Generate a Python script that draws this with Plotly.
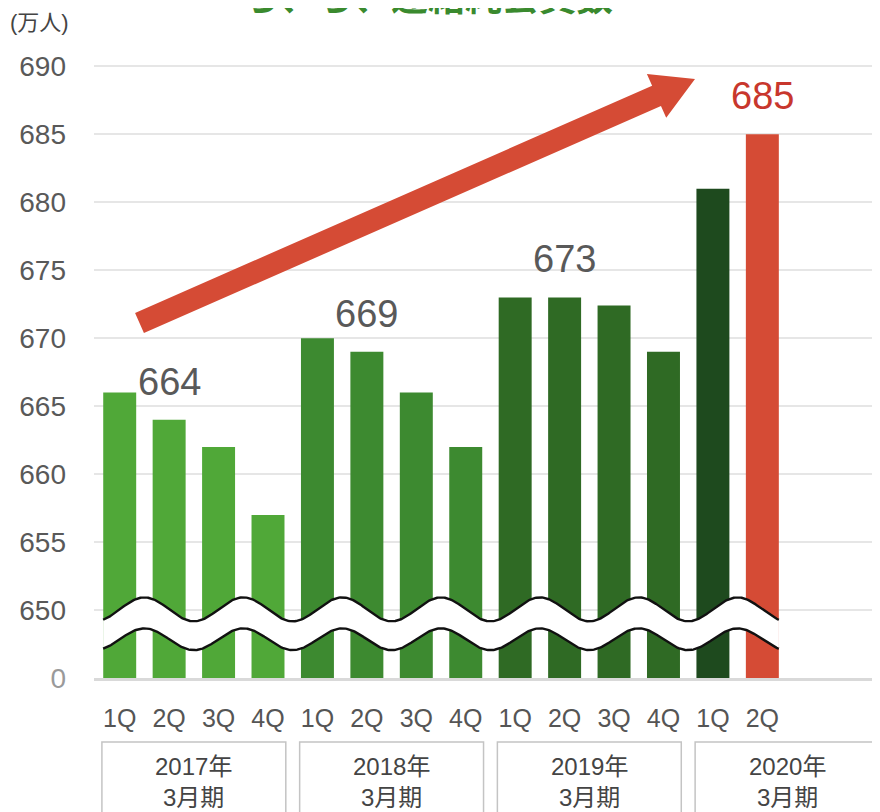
import numpy as np
import plotly.graph_objects as go

# ---------------- data ----------------
quarters = ["1Q", "2Q", "3Q", "4Q", "1Q", "2Q", "3Q", "4Q", "1Q", "2Q", "3Q", "4Q", "1Q", "2Q"]
fiscal_years = ["2017年<br>3月期", "2018年<br>3月期", "2019年<br>3月期", "2020年<br>3月期"]
year_of_bar = [0, 0, 0, 0, 1, 1, 1, 1, 2, 2, 2, 2, 3, 3]
members = [666, 664, 662, 657, 670, 669, 666, 662, 673, 673, 672.4, 669, 681, 685]
label_bars = [1, 5, 9, 13]
y_ticks = [645, 650, 655, 660, 665, 670, 675, 680, 685, 690]
y_tick_text = ["<span style='color:#9a9a9a'>0</span>", "650", "655", "660", "665",
               "670", "675", "680", "685", "690"]
year_colors = ["#50A838", "#3D8A30", "#2F6A24", "#1E4A1E"]
highlight_color = "#D54B35"
title_text = "ら、ら、連結純会員数"
unit_text = "(万人)"

# ---------------- geometry helpers ----------------
# page pixel positions; the page body adds an 8px offset
OFF = 8
W, H = 880, 812
L, R, T, B = 94 - OFF, 880 - OFF, 65 - OFF, 678 - OFF
def pp(px, py):
    return (px - OFF - L) / (R - L), (B - (py - OFF)) / (B - T)

FONT = "Liberation Sans, Arial, Noto Sans CJK JP, sans-serif"
NARROW = "Liberation Sans Narrow, Arial Narrow, Liberation Sans, Noto Sans CJK JP, sans-serif"

x = list(range(len(members)))
colors = [year_colors[g] for g in year_of_bar]
colors[-1] = highlight_color

fig = go.Figure()
fig.add_trace(go.Bar(x=x, y=[m - 645 for m in members], base=645, marker_color=colors,
                     marker_line_width=0, width=0.667, hoverinfo="skip"))

# axis-break wave (decoration)
wx = np.linspace(-0.335, len(members) - 1 + 0.335, 600)
low = 647.85 + 0.80 * np.cos(np.pi * (wx - 0.5))
up = 650.05 + 0.88 * np.cos(np.pi * (wx - 0.5))
fig.add_trace(go.Scatter(x=wx, y=low, mode="lines", line=dict(color="#111", width=2.4),
                         hoverinfo="skip"))
fig.add_trace(go.Scatter(x=wx, y=up, mode="lines", line=dict(color="#111", width=2.4),
                         fill="tonexty", fillcolor="white", hoverinfo="skip"))

annotations = []
for i in label_bars:
    red = i == len(members) - 1
    annotations.append(dict(x=i, y=members[i], xref="x", yref="y", text=f"{members[i]:.0f}",
                            showarrow=False, yshift=38,
                            font=dict(size=38, color="#C8372D" if red else "#595959", family=FONT)))

shapes = []
for g, lab in enumerate(fiscal_years):
    x0, x1 = g * 4 - 0.36, g * 4 + 3.36
    shapes.append(dict(type="rect", xref="x", yref="paper", x0=x0, x1=x1,
                       y0=pp(0, 742)[1], y1=pp(0, 830)[1],
                       line=dict(color="#c4c4c4", width=1.5), fillcolor="rgba(0,0,0,0)", layer="above"))
    annotations.append(dict(x=g * 4 + 1.5, y=pp(0, 782)[1], xref="x", yref="paper", text=lab,
                            showarrow=False, yanchor="middle",
                            font=dict(size=24, color="#444444", family=NARROW)))

# big red arrow (decoration)
S = np.array([139.5, 323.0]); Tp = np.array([695.0, 79.0])
u = (Tp - S) / np.linalg.norm(Tp - S); n = np.array([-u[1], u[0]])
hw, headlen, headw = 11, 42, 24
Hc = Tp - u * headlen
pts = [S + n * hw, Hc + n * hw, Hc + n * headw, Tp, Hc - n * headw, Hc - n * hw, S - n * hw]
path = "M " + " L ".join(f"{pp(*p)[0]:.5f},{pp(*p)[1]:.5f}" for p in pts) + " Z"
shapes.append(dict(type="path", xref="paper", yref="paper", path=path,
                   fillcolor="#D54B35", line=dict(width=0), layer="above"))

annotations.append(dict(x=pp(8, 0)[0], y=pp(0, 22)[1], xref="paper", yref="paper", text=unit_text,
                        showarrow=False, xanchor="left", yanchor="middle",
                        font=dict(size=22, color="#444444", family=FONT)))
annotations.append(dict(x=pp(428, 0)[0], y=pp(0, 24)[1], xref="paper", yref="paper", text=f"<b>{title_text}</b>",
                        showarrow=False, xanchor="center", yanchor="bottom",
                        font=dict(size=37, color="#3A8A2E", family="Noto Sans CJK JP")))

fig.update_layout(
    width=W, height=H, margin=dict(l=L, r=W - R, t=T, b=H - B),
    paper_bgcolor="white", plot_bgcolor="white", showlegend=False,
    annotations=annotations, shapes=shapes, bargap=0.333,
    xaxis=dict(range=[-0.52, 15.38], tickmode="array", tickvals=x, ticktext=quarters,
               showgrid=False, zeroline=False, showline=True, linecolor="#d9d9d9", linewidth=3,
               ticks="", ticklabelstandoff=16,
               tickfont=dict(size=25, color="#555555", family=NARROW), fixedrange=True),
    yaxis=dict(range=[645, 690.1], tickmode="array", tickvals=y_ticks, ticktext=y_tick_text,
               showgrid=True, gridcolor="#e6e6e6", gridwidth=2, zeroline=False, showline=False,
               ticks="", ticklabelstandoff=27,
               tickfont=dict(size=28, color="#595959", family=FONT), fixedrange=True),
)

fig.write_html("out.html")
